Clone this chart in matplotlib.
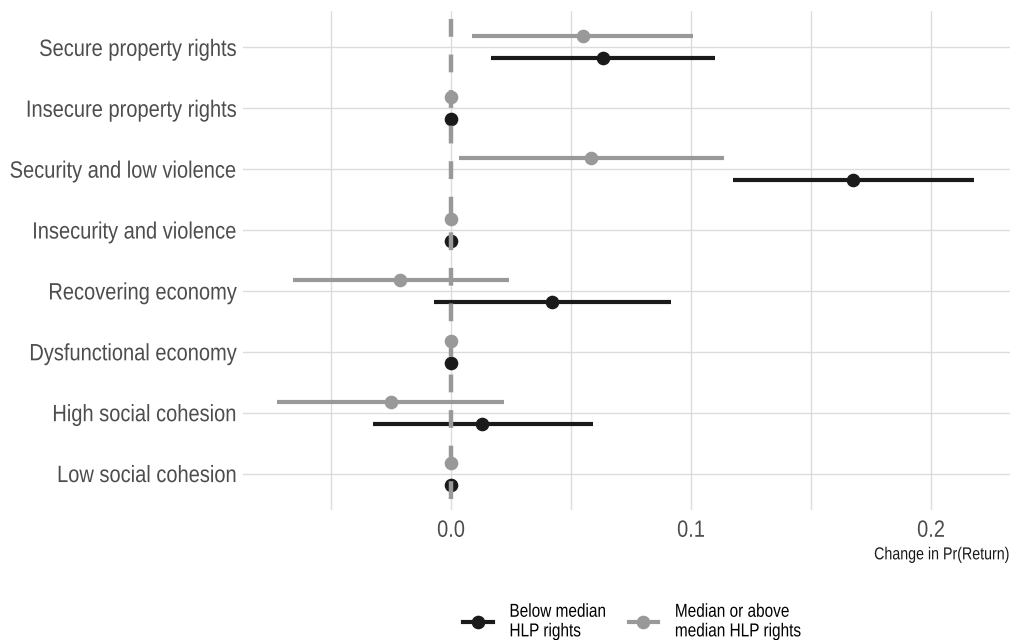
import numpy as np
import matplotlib
matplotlib.use("Agg")
import matplotlib.pyplot as plt
from matplotlib.lines import Line2D
from matplotlib.patheffects import AbstractPathEffect
from matplotlib.transforms import Affine2D, Bbox

plt.rcParams['font.family'] = ['Liberation Sans', 'DejaVu Sans']

categories = ['Secure property rights', 'Insecure property rights',
              'Security and low violence', 'Insecurity and violence',
              'Recovering economy', 'Dysfunctional economy',
              'High social cohesion', 'Low social cohesion']

# below median HLP rights
below_est = [0.0633, 0.0, 0.1676, 0.0, 0.0420, 0.0, 0.0131, 0.0]
below_lo = [0.0168, 0.0, 0.1174, 0.0, -0.0072, 0.0, -0.0326, 0.0]
below_hi = [0.1102, 0.0, 0.2180, 0.0, 0.0916, 0.0, 0.0590, 0.0]

# median or above median HLP rights
above_est = [0.0549, 0.0, 0.0584, 0.0, -0.0211, 0.0, -0.0250, 0.0]
above_lo = [0.0088, 0.0, 0.0033, 0.0, -0.0660, 0.0, -0.0723, 0.0]
above_hi = [0.1008, 0.0, 0.1137, 0.0, 0.0242, 0.0, 0.0221, 0.0]

series_labels = ['Below median\nHLP rights', 'Median or above\nmedian HLP rights']
black = '#1a1a1a'
grey = '#999999'
SX = 0.85


class Narrow(AbstractPathEffect):
    """squeeze glyphs horizontally (no narrow font installed)"""
    def __init__(self, sx=SX, anchor='left'):
        super().__init__()
        self.sx = sx
        self.anchor = anchor

    def draw_path(self, renderer, gc, tpath, affine, rgbFace=None):
        ext = tpath.get_extents()
        if self.anchor == 'right':
            x0 = ext.x1
        elif self.anchor == 'center':
            x0 = 0.5 * (ext.x0 + ext.x1)
        else:
            x0 = 0.0
        sq = Affine2D().translate(-x0, 0).scale(self.sx, 1).translate(x0, 0)
        renderer.draw_path(gc, tpath, sq + affine, rgbFace)


def narrow(text, anchor, sx=SX):
    text.set_path_effects([Narrow(sx, anchor)])
    orig = text.get_window_extent

    def extent(renderer=None, dpi=None):
        bb = orig(renderer, dpi)
        w = bb.width * sx
        if anchor == 'right':
            x0 = bb.x1 - w
        elif anchor == 'center':
            x0 = 0.5 * (bb.x0 + bb.x1) - w / 2
        else:
            x0 = bb.x0
        return Bbox.from_bounds(x0, bb.y0, w, bb.height)
    text.get_window_extent = extent


fig = plt.figure(figsize=(10.12, 6.4), dpi=100)
ax = fig.add_axes([0.240, 0.203, 0.758, 0.780])

y = np.arange(len(categories))
dodge = 0.18

for est, lo, hi, off, col in [(above_est, above_lo, above_hi, -dodge, grey),
                              (below_est, below_lo, below_hi, dodge, black)]:
    yy = y + off
    ax.hlines(yy, lo, hi, color=col, lw=3.0, zorder=3)
    ax.plot(est, yy, 'o', color=col, ms=8.8, zorder=4)

ax.plot([0, 0], [-0.6, len(categories) - 0.4], color=grey, lw=3.2,
        ls=(6.2, (4, 4)), zorder=5)

ax.set_xlim(-0.0867, 0.2329)
ax.set_ylim(len(categories) - 0.4, -0.6)
ax.set_xticks([0.0, 0.1, 0.2])
ax.set_xticklabels(['0.0', '0.1', '0.2'])
ax.set_xticks([-0.05, 0.05, 0.15], minor=True)
ax.set_yticks(y)
ax.set_yticklabels(categories)

ax.grid(True, which='both', color='#dcdcdc', lw=1.0)
ax.set_axisbelow(True)
for s in ax.spines.values():
    s.set_visible(False)
ax.tick_params(which='both', length=0)
ax.tick_params(axis='y', labelsize=17, labelcolor='#4d4d4d', pad=4)
ax.tick_params(axis='x', labelsize=17, labelcolor='#4d4d4d', pad=7)

xl = ax.set_xlabel('Change in Pr(Return)', fontsize=12.5, color='#1a1a1a',
                   loc='right', labelpad=4)
narrow(xl, 'right', 0.82)

for lab in ax.get_yticklabels():
    narrow(lab, 'right')
for lab in ax.get_xticklabels():
    narrow(lab, 'center')

handles = [Line2D([], [], color=black, lw=3.0, marker='o', ms=8.8),
           Line2D([], [], color=grey, lw=3.0, marker='o', ms=8.8)]
leg = fig.legend(handles, series_labels, loc='center left', ncol=2,
                 bbox_to_anchor=(0.458, 0.028), frameon=False, fontsize=13.5,
                 handlelength=1.55, handletextpad=0.9, columnspacing=0.1,
                 labelspacing=0.2, borderpad=0, borderaxespad=0)
for t in leg.get_texts():
    t.set_path_effects([Narrow(0.82, 'left')])

fig.savefig('out.png', dpi=100)
